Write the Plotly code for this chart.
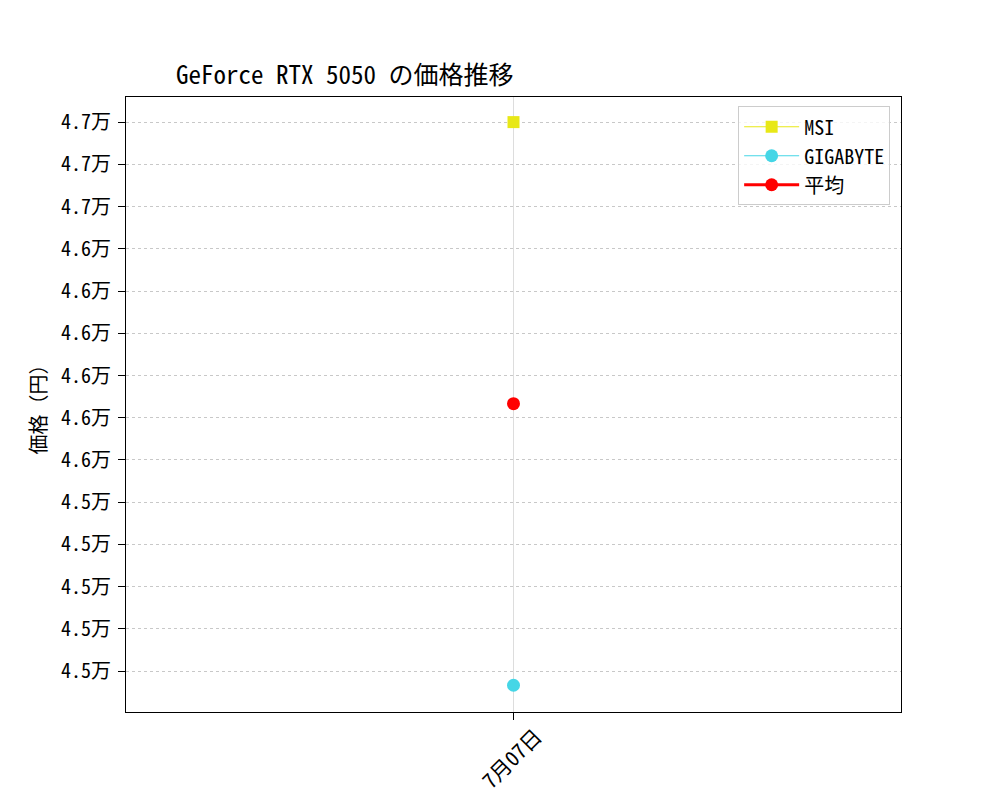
import plotly.graph_objects as go

# DATA
dates = ["7月07日"]
msi_price = [46980]
gigabyte_price = [44580]
avg_price = [45780]

y_tick_vals = [46980, 46800, 46620, 46440, 46260, 46080, 45900, 45720,
               45540, 45360, 45180, 45000, 44820, 44640]
y_tick_text = ["4.7万", "4.7万", "4.7万", "4.6万", "4.6万", "4.6万", "4.6万",
               "4.6万", "4.6万", "4.5万", "4.5万", "4.5万", "4.5万", "4.5万"]

FONT = "Noto Sans Mono CJK JP, Noto Sans CJK JP, DejaVu Sans Mono"

fig = go.Figure()
fig.add_trace(go.Scatter(x=dates, y=msi_price, name="MSI", mode="lines+markers",
                         line=dict(color="#e8e817", width=1.2),
                         marker=dict(symbol="square", size=12, color="#e8e817")))
fig.add_trace(go.Scatter(x=dates, y=gigabyte_price, name="GIGABYTE", mode="lines+markers",
                         line=dict(color="#45d6e6", width=1.2),
                         marker=dict(symbol="circle", size=13, color="#45d6e6")))
fig.add_trace(go.Scatter(x=dates, y=avg_price, name="平均", mode="lines+markers",
                         line=dict(color="#ff0000", width=3),
                         marker=dict(symbol="circle", size=13, color="#ff0000")))

# x tick labels drawn as rotated annotations so they sit centred under the tick
for d in dates:
    fig.add_annotation(x=d, xref="x", y=-0.074, yref="paper", text=d, xshift=-3,
                       textangle=-45, showarrow=False, xanchor="center", yanchor="middle",
                       font=dict(size=21))

# page body adds ~8px offset, so margins are shifted accordingly
fig.update_layout(
    width=1000, height=800,
    margin=dict(l=118, r=107, t=89, b=96),
    paper_bgcolor="white", plot_bgcolor="white",
    font=dict(family=FONT, size=20, color="black"),
    title=dict(text="GeForce RTX 5050 の価格推移", x=0.168, xanchor="left",
               xref="container", y=0.916, yref="container", yanchor="middle",
               font=dict(size=25, color="black")),
    legend=dict(x=0.986, y=0.985, xanchor="right", yanchor="top",
                bgcolor="rgba(255,255,255,0.8)", bordercolor="#cccccc", borderwidth=1,
                font=dict(size=20), itemwidth=55, tracegroupgap=1),
    showlegend=True,
)

fig.update_xaxes(type="category", range=[-0.5, 0.5], automargin=False,
                 showline=True, linecolor="black", linewidth=1.2, mirror=True,
                 ticks="outside", ticklen=7, tickcolor="black", showticklabels=False,
                 showgrid=True, gridcolor="#dddddd", gridwidth=1, zeroline=False)
fig.update_yaxes(range=[44466, 47087], tickvals=y_tick_vals, ticktext=y_tick_text,
                 automargin=False,
                 showline=True, linecolor="black", linewidth=1.2, mirror=True,
                 ticks="outside", ticklen=7, tickcolor="black", ticklabelstandoff=3,
                 showgrid=True, gridcolor="#c8c8c8", gridwidth=0.6, griddash="dot",
                 zeroline=False,
                 title=dict(text="価格（円）", standoff=8, font=dict(size=20)))

fig.write_html("out.html")
